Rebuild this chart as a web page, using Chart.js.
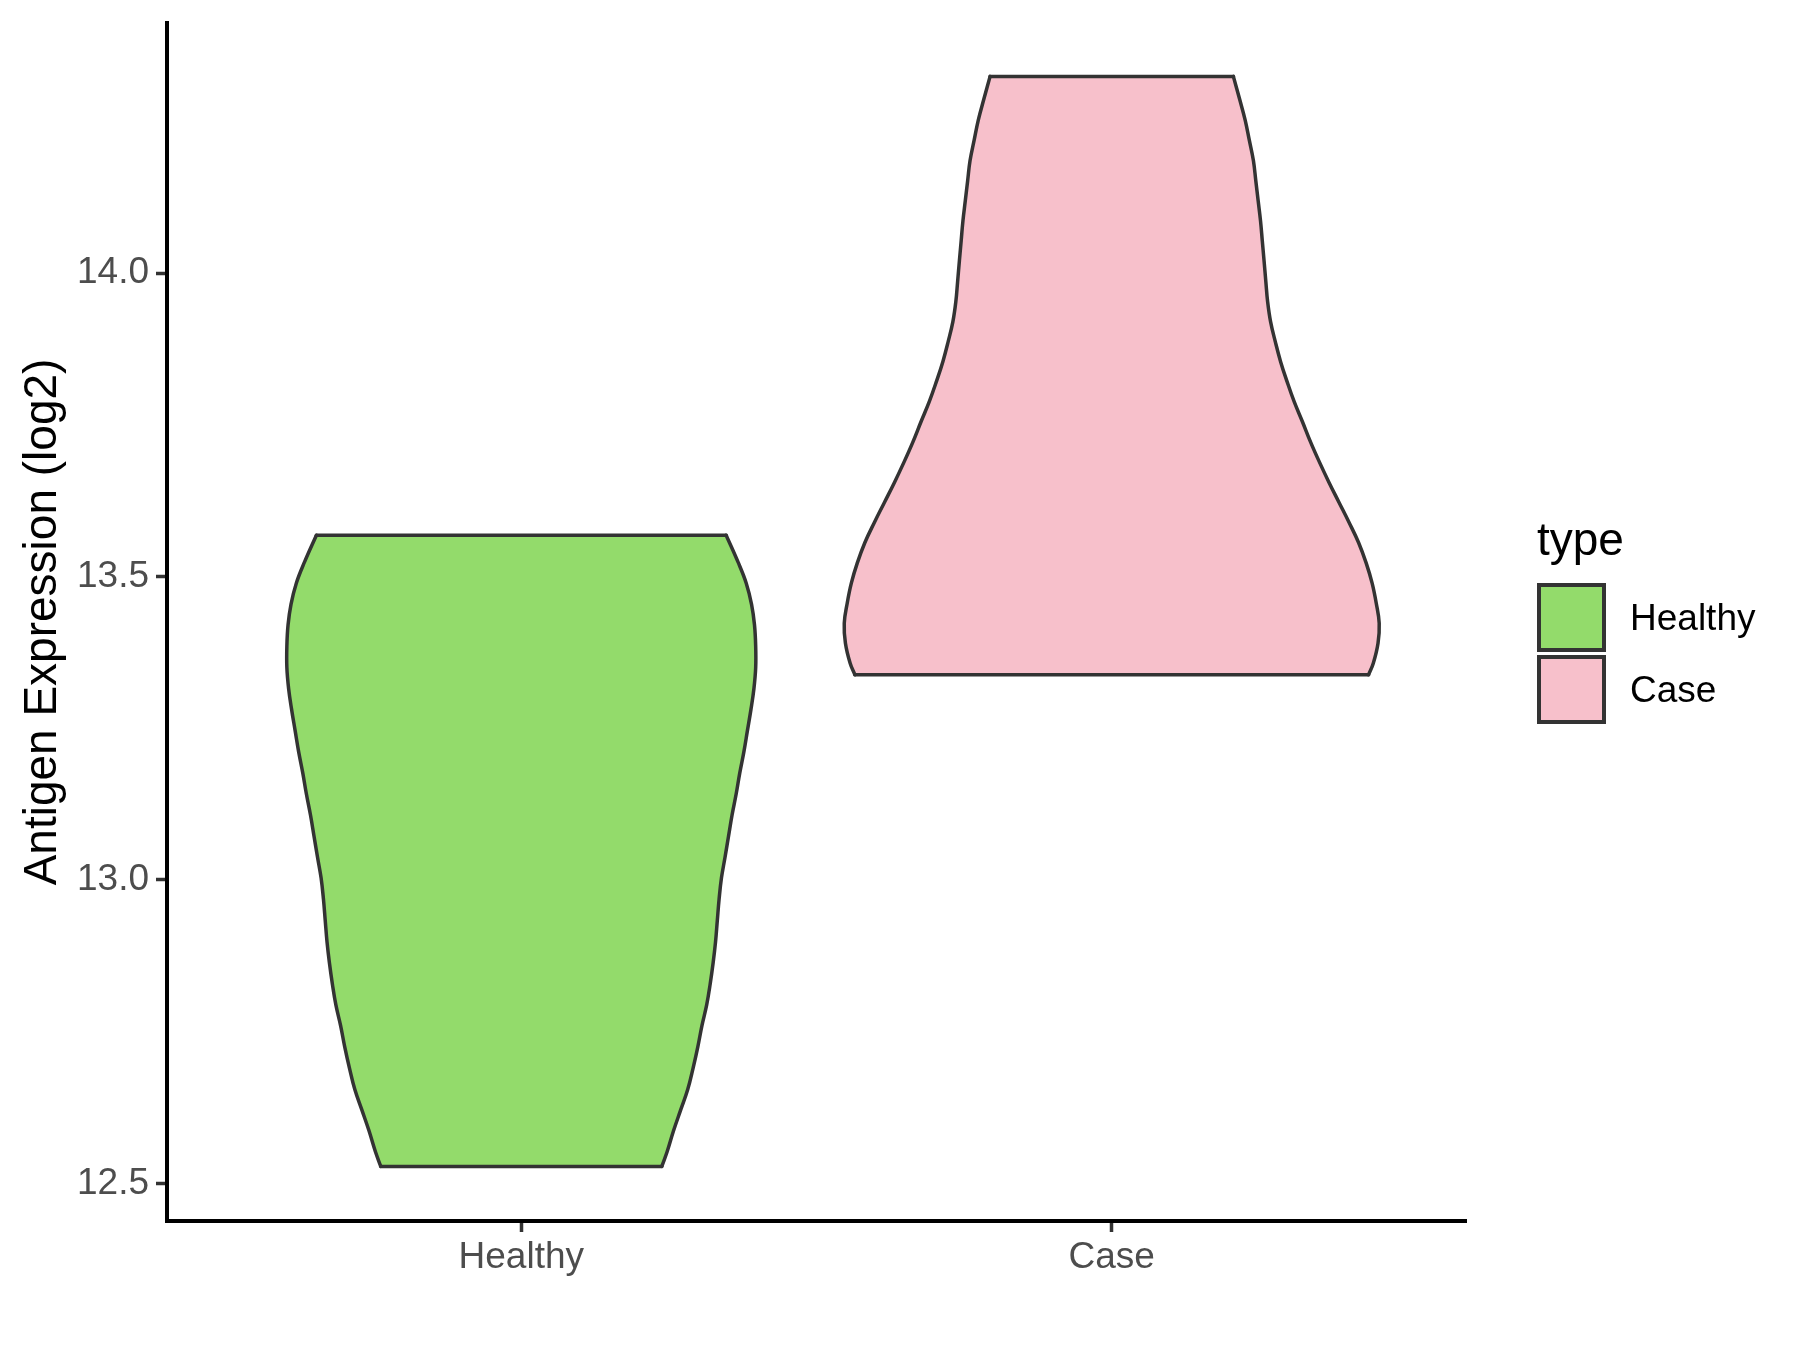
<!DOCTYPE html>
<html>
<head>
<meta charset="utf-8">
<script src="https://cdn.jsdelivr.net/npm/chart.js@4.4.1/dist/chart.umd.min.js"></script>
<style>
  body { margin: 0; background: #fff; }
  #wrap { position: relative; width: 1800px; height: 1350px; }
</style>
</head>
<body>
<div id="wrap"><canvas id="violin" width="1800" height="1350"></canvas></div>
<script>
// categories on the x axis
const groups = ['Healthy', 'Case'];
const groupColors = ['#93DB6B', '#F7C0CB'];

// violin outlines: y value and half width (in category units)
const healthyY = [13.568, 13.524, 13.489, 13.454, 13.420, 13.385, 13.350, 13.315, 13.281, 13.246,
  13.211, 13.176, 13.142, 13.107, 13.072, 13.037, 13.003, 12.968, 12.933, 12.898,
  12.864, 12.829, 12.794, 12.760, 12.725, 12.690, 12.655, 12.621, 12.587, 12.552, 12.528];
const healthyHalfWidth = [0.347, 0.367, 0.381, 0.390, 0.395, 0.397, 0.397, 0.394, 0.389, 0.383,
  0.377, 0.370, 0.364, 0.357, 0.351, 0.345, 0.339, 0.335, 0.332, 0.329,
  0.325, 0.320, 0.314, 0.306, 0.299, 0.291, 0.282, 0.270, 0.258, 0.247, 0.238];

const caseY = [14.324, 14.285, 14.252, 14.219, 14.185, 14.152, 14.119, 14.086, 14.053, 14.020,
  13.986, 13.953, 13.920, 13.887, 13.854, 13.821, 13.788, 13.755, 13.721, 13.688,
  13.655, 13.622, 13.589, 13.556, 13.522, 13.489, 13.456, 13.423, 13.390, 13.357, 13.338];
const caseHalfWidth = [0.206, 0.217, 0.226, 0.233, 0.240, 0.244, 0.248, 0.252, 0.255, 0.258,
  0.261, 0.264, 0.269, 0.277, 0.286, 0.297, 0.309, 0.323, 0.337, 0.352,
  0.368, 0.385, 0.402, 0.418, 0.431, 0.441, 0.448, 0.453, 0.451, 0.443, 0.435];

// axis ticks
const yTicks = [12.5, 13.0, 13.5, 14.0];
const yMin = 12.438, yMax = 14.412;

const FONT = '"Liberation Sans", Arial, sans-serif';
const EDGE = '#333333';

// one violin -> a filled body plus its outline pieces (drawn on top)
function violinSets(center, ys, hws, color, name) {
  const right = ys.map((y, i) => ({ x: center + hws[i], y: y }));
  const left = ys.map((y, i) => ({ x: center - hws[i], y: y }));
  const last = ys.length - 1;
  const body = right.concat(left.slice().reverse());
  const line = (pts, t) => ({
    label: name + ' edge',
    data: pts,
    borderColor: EDGE,
    borderWidth: 3.5,
    borderCapStyle: 'round',
    fill: false,
    tension: t,
    pointRadius: 0,
    clip: false,
    order: 0
  });
  return [
    {
      label: name,
      data: body,
      backgroundColor: color,
      borderColor: 'rgba(0,0,0,0)',
      borderWidth: 1,
      fill: 'shape',
      tension: 0,
      pointRadius: 0,
      clip: false,
      order: 1
    },
    line(right, 0.4),
    line(left, 0.4),
    line([left[0], right[0]], 0),
    line([left[last], right[last]], 0)
  ];
}

const datasets = [].concat(
  violinSets(1, healthyY, healthyHalfWidth, groupColors[0], groups[0]),
  violinSets(2, caseY, caseHalfWidth, groupColors[1], groups[1])
);

// legend on the right side, like ggplot
const legendPlugin = {
  id: 'typeLegend',
  afterDraw(chart) {
    const c = chart.ctx;
    c.save();
    c.fillStyle = '#000';
    c.textAlign = 'left';
    c.textBaseline = 'alphabetic';
    c.font = '46px ' + FONT;
    c.fillText('type', 1537, 555);
    c.font = '37px ' + FONT;
    groups.forEach((g, i) => {
      const top = 585 + i * 72;
      c.fillStyle = groupColors[i];
      c.fillRect(1539, top, 65, 65);
      c.lineWidth = 4;
      c.strokeStyle = EDGE;
      c.strokeRect(1539, top, 65, 65);
      c.fillStyle = '#000';
      c.fillText(g, 1630, top + 45);
    });
    c.restore();
  }
};

const ctx = document.getElementById('violin').getContext('2d');
new Chart(ctx, {
  type: 'line',
  data: { datasets: datasets },
  options: {
    responsive: false,
    animation: false,
    layout: { padding: { left: 0, top: 23, right: 334, bottom: 0 } },
    plugins: {
      legend: { display: false },
      tooltip: { enabled: false }
    },
    scales: {
      x: {
        type: 'linear',
        min: 0.4,
        max: 2.6,
        afterBuildTicks: s => { s.ticks = groups.map((g, i) => ({ value: i + 1 })); },
        afterFit: s => { s.height = 129; s.paddingLeft = 0; s.paddingRight = 0; },
        ticks: {
          callback: v => groups[v - 1],
          color: '#4D4D4D',
          font: { size: 37, family: FONT },
          padding: 4,
          maxRotation: 0
        },
        grid: { drawOnChartArea: false, tickLength: 11, tickWidth: 3.5, tickColor: EDGE },
        border: { color: '#000', width: 4 }
      },
      y: {
        type: 'linear',
        min: yMin,
        max: yMax,
        afterBuildTicks: s => { s.ticks = yTicks.map(v => ({ value: v })); },
        afterFit: s => { s.width = 167; s.paddingTop = 0; s.paddingBottom = 0; },
        ticks: {
          callback: v => v.toFixed(1),
          color: '#4D4D4D',
          font: { size: 37, family: FONT },
          padding: 7
        },
        grid: { drawOnChartArea: false, tickLength: 11, tickWidth: 3.5, tickColor: EDGE },
        border: { color: '#000', width: 4 },
        title: {
          display: true,
          text: 'Antigen Expression (log2)',
          color: '#000',
          font: { size: 46, family: FONT },
          padding: { top: 16, bottom: 0 }
        }
      }
    }
  },
  plugins: [legendPlugin]
});
</script>
</body>
</html>
